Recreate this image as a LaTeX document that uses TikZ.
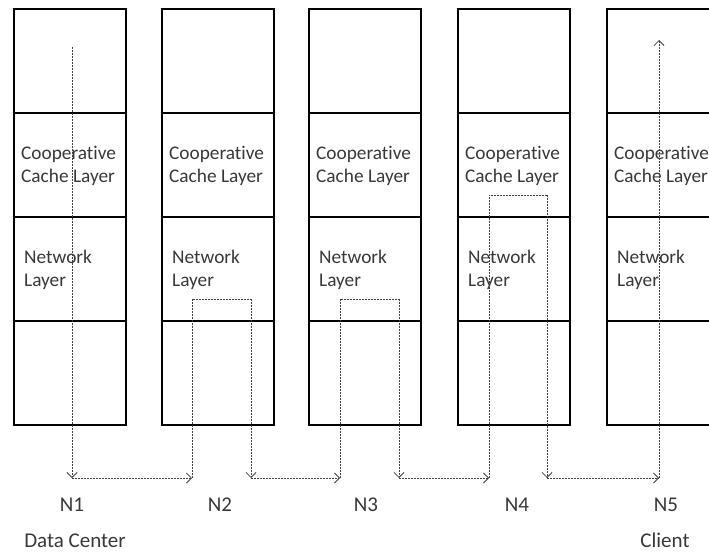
\documentclass[tikz,border=0pt]{standalone}
\usepackage{fontspec}
\setmainfont{Carlito}[Ligatures=NoCommon]
\usetikzlibrary{arrows.meta}

\begin{document}
\begin{tikzpicture}[x=1pt,y=-1pt,
  cell/.style={draw, line width=2.8pt, minimum width=112pt, minimum height=104pt,
               inner sep=0pt, outer sep=0pt},
  lyr/.style={anchor=north west, align=left, inner sep=0pt, text=black!78,
              font=\fontsize{19.3}{23}\selectfont},
  tag/.style={anchor=base, inner sep=0pt, text=black!78,
              font=\fontsize{21}{25}\selectfont},
  hop/.style={line width=0.8pt, black!75, dash pattern=on 2pt off 1pt},
  tip/.style={hop, -{Straight Barb[length=5pt,width=10pt,line width=0.8pt]}}]

\useasboundingbox (0,0) rectangle (709,553);
\clip (0,0) rectangle (709,553);

% protocol stacks: four cells per node
\foreach \i/\cx in {1/70, 2/218, 3/365, 4/514, 5/663} {
  \foreach \r/\cy in {a/61, b/165, c/269, d/373}
    \node[cell] (s\i\r) at (\cx,\cy) {};
}

% layer names
\foreach \i in {1,...,5} {
  \node[lyr] (cc\i) at ([xshift=7pt,yshift=-33.5pt]s\i b.north west) {Cooperative\\Cache Layer};
  \node[lyr] (nl\i) at ([xshift=10pt,yshift=-33pt]s\i c.north west) {Network\\Layer};
}

% node captions
\node[tag] (n1) at (72,511) {N1};
\node[tag] (n2) at (220,511) {N2};
\node[tag] (n3) at (366,511) {N3};
\node[tag] (n4) at (517,511) {N4};
\node[tag] (n5) at (666,511) {N5};
\node[tag] (dc) at (75,547) {Data Center};
\node[tag] (cl) at (665,547) {Client};

% route of the data through the stacks
\coordinate (p0) at (72,47);
\coordinate (p1) at (72,478);
\coordinate (q0) at (192,478);  \coordinate (q1) at (192,299);
\coordinate (q2) at (251,299);  \coordinate (q3) at (251,478);
\coordinate (r0) at (340,478);  \coordinate (r1) at (340,299);
\coordinate (r2) at (399,299);  \coordinate (r3) at (399,478);
\coordinate (t0) at (489,478);  \coordinate (t1) at (489,195);
\coordinate (t2) at (547,195);  \coordinate (t3) at (547,478);
\coordinate (u0) at (659,478);  \coordinate (u1) at (659,40);

\draw[tip] (p0) -- (p1);
\draw[tip] (p1) -- (q0);
\draw[hop] (q0) -- (q1) -- (q2);
\draw[tip] (q2) -- (q3);
\draw[tip] (q3) -- (r0);
\draw[hop] (r0) -- (r1) -- (r2);
\draw[tip] (r2) -- (r3);
\draw[tip] (r3) -- (t0);
\draw[hop] (t0) -- (t1) -- (t2);
\draw[tip] (t2) -- (t3);
\draw[tip] (t3) -- (u0);
\draw[tip] (u0) -- (u1);
\end{tikzpicture}
\end{document}
